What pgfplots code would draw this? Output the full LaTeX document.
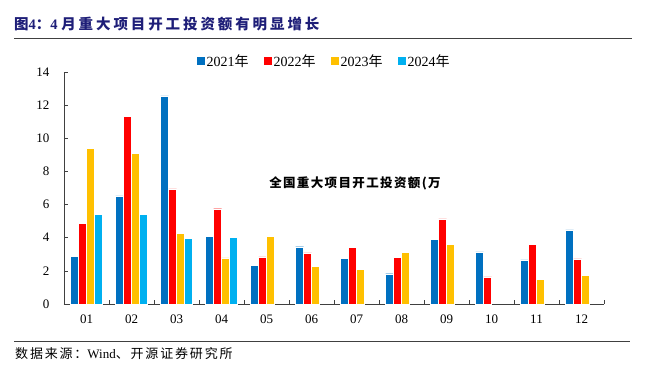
\documentclass[border=0pt]{standalone}
\usepackage{pgfplots}
\pgfplotsset{compat=1.18}
\usepackage{fontspec}
\setmainfont{Liberation Serif}
\newfontfamily\cjk{Noto Sans CJK SC}
\newfontfamily\cjkt[LetterSpace=20]{Noto Sans CJK SC}
\newfontfamily\cjks[LetterSpace=14]{Noto Sans CJK SC}
\newfontfamily\cjka[LetterSpace=11]{Noto Sans CJK SC}
\definecolor{cB}{RGB}{0,112,192}
\definecolor{cR}{RGB}{255,0,0}
\definecolor{cY}{RGB}{255,192,0}
\definecolor{cC}{RGB}{0,176,240}
\definecolor{titleblue}{RGB}{30,30,120}
\definecolor{axgray}{RGB}{64,64,64}
\begin{document}
\begin{tikzpicture}
\path (0bp,0bp) rectangle (651bp,-380bp);
% title and rules
\node[anchor=west,inner sep=0pt,text=titleblue,font=\fontsize{14.5bp}{16bp}\selectfont\bfseries] at (14bp,-24bp) {{\cjkt 图}4{\cjkt ：}4 {\cjkt 月重大项目开工投资额有明显增长}};
\draw[axgray,line width=1bp] (14bp,-38bp) -- (632bp,-38bp);
\draw[axgray,line width=1bp] (14bp,-341bp) -- (630bp,-341bp);
\node[anchor=west,inner sep=0pt,font=\fontsize{13bp}{15bp}\selectfont] at (15bp,-354bp) {{\cjks 数据来源：}Wind{\cjks 、开源证券研究所}};
\begin{axis}[
  at={(64bp,-304bp)}, anchor=south west,
  scale only axis, width=540bp, height=232bp,
  xmin=0.5, xmax=12.5, ymin=0, ymax=14,
  axis lines*=left,
  axis line style={axgray,line width=0.8bp},
  ybar=0pt, bar width=8bp,
  xtick={1,...,12},
  xticklabels={01,02,03,04,05,06,07,08,09,10,11,12},
  minor xtick={0.5,1.5,...,12.5},
  major x tick style={draw=none},
  minor tick length=4bp,
  ytick={0,2,...,14},
  major tick length=4bp,
  tick align=inside,
  tick style={axgray,line width=0.6bp},
  /pgf/number format/assume math mode=true,
  ticklabel style={font=\fontsize{13bp}{15bp}\selectfont},
  yticklabel style={xshift=-11bp},
  xticklabel style={yshift=-7bp},
  legend columns=4,
  legend style={draw=none, fill=none, at={(0.246,1.047)}, anchor=west, inner sep=0pt,
    font=\fontsize{14bp}{16bp}\selectfont,
    /tikz/every even column/.append style={column sep=14bp},
    nodes={inner sep=1.5bp}},
  every axis plot/.append style={draw=white, line width=0.3bp,
    legend image code/.code={\fill[##1,draw=none] (0bp,-4bp) rectangle (8bp,4bp);}},
]
\addplot[fill=cB] coordinates {(1,2.88) (2,6.52) (3,12.56) (4,4.08) (5,2.33) (6,3.46) (7,2.74) (8,1.83) (9,3.92) (10,3.14) (11,2.66) (12,4.47)};
\addplot[fill=cR] coordinates {(1,4.85) (2,11.33) (3,6.94) (4,5.75) (5,2.84) (6,3.08) (7,3.42) (8,2.82) (9,5.13) (10,1.63) (11,3.60) (12,2.72)};
\addplot[fill=cY] coordinates {(1,9.38) (2,9.09) (3,4.25) (4,2.78) (5,4.08) (6,2.27) (7,2.09) (8,3.12) (9,3.60) (11,1.49) (12,1.75)};
\addplot[fill=cC] coordinates {(1,5.43) (2,5.43) (3,3.96) (4,4.02)};
\legend{2021{\cjk 年},2022{\cjk 年},2023{\cjk 年},2024{\cjk 年}}
\end{axis}
\node[inner sep=0pt,font=\fontsize{12.5bp}{14bp}\selectfont\bfseries] at (355bp,-183bp) {\cjka 全国重大项目开工投资额(万};
\end{tikzpicture}
\end{document}
